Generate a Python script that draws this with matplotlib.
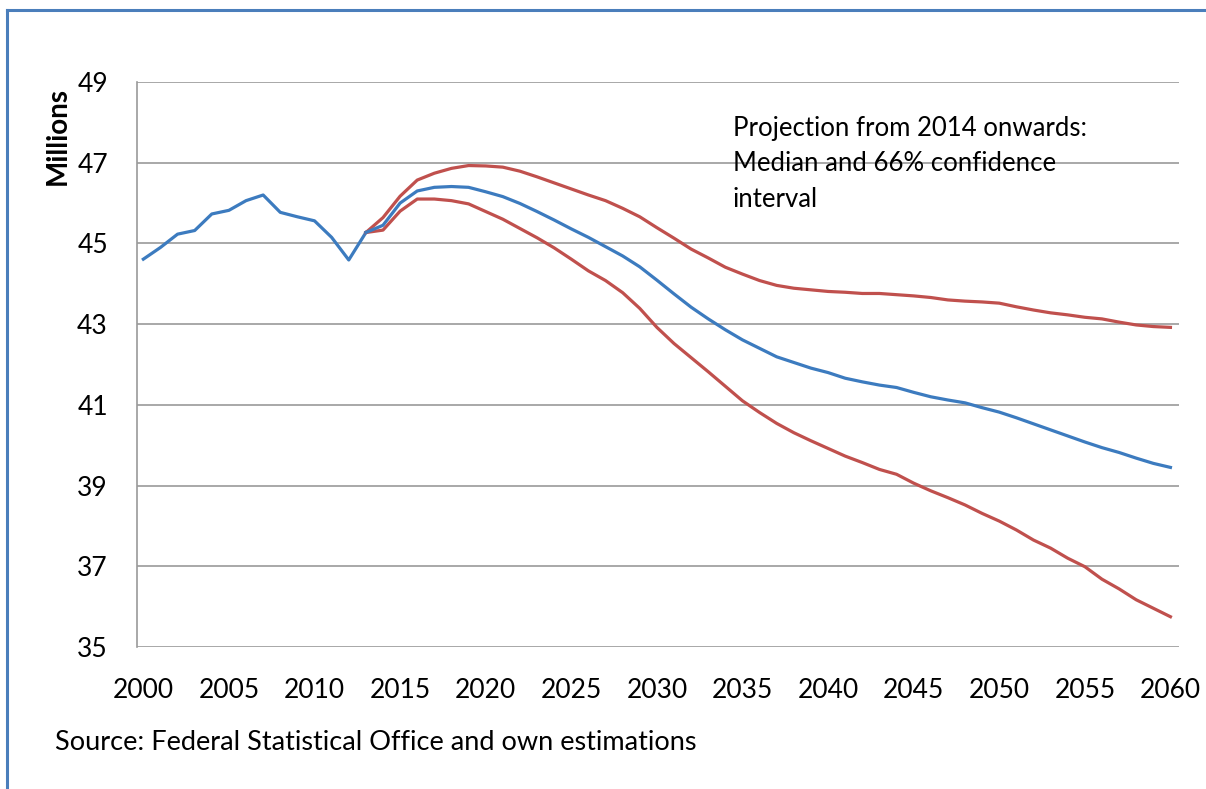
import matplotlib
matplotlib.use("Agg")
import matplotlib.pyplot as plt
from matplotlib.lines import Line2D

plt.rcParams['font.family'] = ['Lato', 'DejaVu Sans']

# observed values 2000-2013
hist_years = list(range(2000, 2014))
hist = [44.61, 44.90, 45.23, 45.32, 45.73, 45.82, 46.06, 46.20, 45.77, 45.66,
        45.56, 45.15, 44.59, 45.27]

# projection 2013-2060: median, upper and lower bound of 66% interval
proj_years = list(range(2013, 2061))
median = [45.27, 45.45, 46.00, 46.30, 46.39, 46.41, 46.39, 46.28, 46.16, 45.99,
          45.79, 45.58, 45.36, 45.15, 44.92, 44.69, 44.42, 44.09, 43.75, 43.42,
          43.13, 42.86, 42.61, 42.40, 42.19, 42.05, 41.91, 41.80, 41.66, 41.57,
          41.49, 41.43, 41.31, 41.20, 41.12, 41.05, 40.93, 40.82, 40.68, 40.53,
          40.38, 40.23, 40.08, 39.94, 39.82, 39.68, 39.55, 39.45]
upper = [45.27, 45.64, 46.17, 46.57, 46.74, 46.86, 46.93, 46.92, 46.89, 46.79,
         46.65, 46.50, 46.35, 46.20, 46.06, 45.87, 45.66, 45.39, 45.13, 44.86,
         44.64, 44.41, 44.24, 44.08, 43.96, 43.89, 43.85, 43.81, 43.79, 43.76,
         43.76, 43.73, 43.70, 43.66, 43.60, 43.57, 43.55, 43.52, 43.43, 43.35,
         43.28, 43.23, 43.17, 43.13, 43.05, 42.98, 42.94, 42.92]
lower = [45.27, 45.33, 45.80, 46.10, 46.10, 46.06, 45.98, 45.79, 45.60, 45.37,
         45.14, 44.89, 44.61, 44.32, 44.08, 43.78, 43.39, 42.92, 42.52, 42.17,
         41.82, 41.46, 41.10, 40.81, 40.54, 40.31, 40.11, 39.92, 39.73, 39.57,
         39.40, 39.28, 39.06, 38.87, 38.70, 38.52, 38.31, 38.12, 37.90, 37.65,
         37.45, 37.20, 36.99, 36.68, 36.44, 36.17, 35.96, 35.75]

yticks = [35, 37, 39, 41, 43, 45, 47, 49]
xticks = list(range(2000, 2061, 5))

blue = "#3c7bbf"
red = "#c0504d"

W, H = 1206, 789
fig = plt.figure(figsize=(W / 100, H / 100), dpi=100)
ax = fig.add_axes([137 / W, 1 - 647 / H, (1179 - 137) / W, (647 - 82) / H])

ax.plot(hist_years, hist, color=blue, lw=2.3, solid_joinstyle='round')
ax.plot(proj_years, upper, color=red, lw=2.3, solid_joinstyle='round')
ax.plot(proj_years, lower, color=red, lw=2.3, solid_joinstyle='round')
ax.plot(proj_years, median, color=blue, lw=2.3, solid_joinstyle='round')

ax.set_xlim(1999.63, 2060.5)
ax.set_ylim(35, 49)
ax.set_yticks(yticks)
ax.set_xticks(xticks)
ax.grid(axis='y', color='#9a9a9a', lw=1.2)
ax.set_axisbelow(True)
for s in ['top', 'right', 'bottom']:
    ax.spines[s].set_visible(False)
ax.spines['left'].set_color('#9a9a9a')
ax.spines['left'].set_linewidth(1.2)
ax.tick_params(axis='y', length=0, pad=21, labelsize=19)
ax.tick_params(axis='x', length=0, pad=22, labelsize=19)

fig.text(58 / W, 1 - 136 / H, "Millions", rotation=90, fontsize=20,
         fontweight='bold', ha='center', va='center')

ax.text(733 / W, 1 - 116 / H,
        "Projection from 2014 onwards:\nMedian and 66% confidence\ninterval",
        transform=fig.transFigure, fontsize=18.5, ha='left', va='top',
        linespacing=1.52)

fig.text(55 / W, 1 - 743 / H, "Source: Federal Statistical Office and own estimations",
         fontsize=19.5, ha='left', va='center')

# outer frame (left and top edge)
fig.add_artist(Line2D([7 / W, 7 / W], [0, 1 - 10 / H], transform=fig.transFigure,
                      color='#4a7ebb', lw=2.2))
fig.add_artist(Line2D([7 / W, 1], [1 - 10 / H, 1 - 10 / H], transform=fig.transFigure,
                      color='#4a7ebb', lw=2.2))

fig.savefig("out.png", dpi=100)
